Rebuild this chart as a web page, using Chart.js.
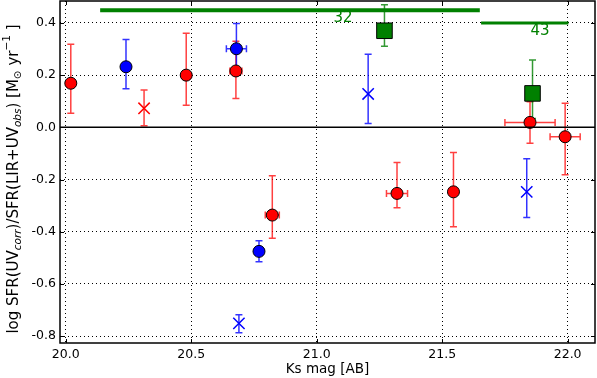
<!DOCTYPE html>
<html>
<head>
<meta charset="utf-8">
<script src="https://cdn.jsdelivr.net/npm/chart.js@4/dist/chart.umd.min.js"></script>
<style>
  body { margin: 0; background: #fff; }
  canvas { display: block; }
</style>
</head>
<body>
<canvas id="chart_sfr" width="597" height="378"></canvas>
<script>
// axis ticks
var xTicks = [20.0, 20.5, 21.0, 21.5, 22.0];
var yTicks = [-0.8, -0.6, -0.4, -0.2, 0.0, 0.2, 0.4];

// red circles
var redX    = [20.02, 20.48, 20.678, 20.823, 21.32, 21.545, 21.85, 21.99];
var redY    = [0.169, 0.200, 0.216, -0.336, -0.253, -0.247, 0.019, -0.036];
var redLo   = [0.054, 0.085, 0.111, -0.425, -0.308, -0.381, -0.061, -0.182];
var redHi   = [0.318, 0.360, 0.330, -0.185, -0.135, -0.096, 0.098, 0.092];
var redXErr = [0, 0, 0.024, 0.028, 0.042, 0, 0.10, 0.06];

// red crosses
var redCrossX  = [20.312];
var redCrossY  = [0.073];
var redCrossLo = [0.006];
var redCrossHi = [0.143];

// blue circles
var blueX    = [20.24, 20.68, 20.77];
var blueY    = [0.232, 0.301, -0.475];
var blueLo   = [0.148, 0.210, -0.515];
var blueHi   = [0.337, 0.398, -0.434];
var blueXErr = [0, 0.04, 0];

// blue crosses
var blueCrossX  = [21.205, 21.837, 20.69];
var blueCrossY  = [0.128, -0.247, -0.751];
var blueCrossLo = [0.015, -0.345, -0.787];
var blueCrossHi = [0.280, -0.120, -0.718];

// green squares (binned)
var greenX  = [21.27, 21.86];
var greenY  = [0.370, 0.130];
var greenLo = [0.311, 0.034];
var greenHi = [0.470, 0.258];

// bin ranges and counts
var binStart = [20.137, 21.655];
var binEnd   = [21.65, 22.003];
var binLevel = [0.449, 0.400];
var binCount = ['32', '43'];
var binLabelX = [21.105, 21.89];
var binLabelY = [0.419, 0.369];

var xMin = 19.977, xMax = 22.109;
var yMin = -0.826, yMax = 0.484;

function pts(xs, ys) {
    return xs.map((v, i) => ({ x: v, y: ys[i] }));
}

var errGroups = [
    { x: redX, lo: redLo, hi: redHi, xe: redXErr, y: redY, color: 'rgba(255, 0, 0, 0.75)' },
    { x: redCrossX, lo: redCrossLo, hi: redCrossHi, y: redCrossY, color: 'rgba(255, 0, 0, 0.75)' },
    { x: blueX, lo: blueLo, hi: blueHi, xe: blueXErr, y: blueY, color: 'rgba(0, 0, 255, 0.8)' },
    { x: blueCrossX, lo: blueCrossLo, hi: blueCrossHi, y: blueCrossY, color: 'rgba(0, 0, 255, 0.8)' },
    { x: greenX, lo: greenLo, hi: greenHi, y: greenY, color: 'rgba(0, 128, 0, 0.8)' }
];

function noPad(s) {
    s.paddingTop = 0;
    s.paddingBottom = 0;
    s.paddingLeft = 0;
    s.paddingRight = 0;
}

const errorBars = {
    id: 'errorBars',
    beforeDatasetsDraw(chart) {
        const ctx = chart.ctx;
        const xs = chart.scales.x, ys = chart.scales.y;
        ctx.save();
        ctx.lineWidth = 1.5;
        errGroups.forEach(g => {
            ctx.strokeStyle = g.color;
            for (let i = 0; i < g.x.length; i++) {
                const px = xs.getPixelForValue(g.x[i]);
                const top = ys.getPixelForValue(g.hi[i]);
                const bot = ys.getPixelForValue(g.lo[i]);
                ctx.beginPath();
                ctx.moveTo(px, top); ctx.lineTo(px, bot);
                ctx.moveTo(px - 3.5, top); ctx.lineTo(px + 3.5, top);
                ctx.moveTo(px - 3.5, bot); ctx.lineTo(px + 3.5, bot);
                if (g.xe && g.xe[i] > 0) {
                    const py = ys.getPixelForValue(g.y[i]);
                    const l = xs.getPixelForValue(g.x[i] - g.xe[i]);
                    const r = xs.getPixelForValue(g.x[i] + g.xe[i]);
                    ctx.moveTo(l, py); ctx.lineTo(r, py);
                    ctx.moveTo(l, py - 3.5); ctx.lineTo(l, py + 3.5);
                    ctx.moveTo(r, py - 3.5); ctx.lineTo(r, py + 3.5);
                }
                ctx.stroke();
            }
        });
        ctx.restore();
    },
    afterDraw(chart) {
        const ctx = chart.ctx;
        const a = chart.chartArea;
        const xs = chart.scales.x, ys = chart.scales.y;
        ctx.save();
        // inner ticks
        ctx.strokeStyle = '#000';
        ctx.lineWidth = 1;
        ctx.beginPath();
        xTicks.forEach(v => {
            const px = Math.round(xs.getPixelForValue(v)) + 0.5;
            ctx.moveTo(px, a.bottom); ctx.lineTo(px, a.bottom - 4);
            ctx.moveTo(px, a.top); ctx.lineTo(px, a.top + 4);
        });
        yTicks.forEach(v => {
            const py = Math.round(ys.getPixelForValue(v)) + 0.5;
            ctx.moveTo(a.left, py); ctx.lineTo(a.left + 4, py);
            ctx.moveTo(a.right, py); ctx.lineTo(a.right - 4, py);
        });
        ctx.stroke();
        // frame
        ctx.lineWidth = 1.5;
        ctx.strokeRect(a.left, a.top, a.right - a.left, a.bottom - a.top);

        // bin counts
        ctx.fillStyle = '#008000';
        ctx.font = '15px "DejaVu Sans"';
        ctx.textAlign = 'center';
        ctx.textBaseline = 'middle';
        binCount.forEach((t, i) => {
            ctx.fillText(t, xs.getPixelForValue(binLabelX[i]), ys.getPixelForValue(binLabelY[i]));
        });

        // x label
        ctx.fillStyle = '#000';
        ctx.font = '13.5px "DejaVu Sans"';
        ctx.fillText('Ks mag [AB]', (a.left + a.right) / 2, 369);

        // y label with sub/superscripts
        const parts = [
            ['log SFR(UV', 0, 15, ''],
            ['corr', 4, 10.5, 'italic '],
            [')/SFR(LIR+UV', 0, 15, ''],
            ['obs', 4, 10.5, 'italic '],
            [') [M', 0, 15, ''],
            ['\u2299', 4, 10.5, ''],
            [' yr', 0, 15, ''],
            ['\u22121', -7, 10.5, ''],
            [' ]', 0, 15, '']
        ];
        let total = 0;
        parts.forEach(p => {
            ctx.font = p[3] + p[2] + 'px "DejaVu Sans"';
            p.push(ctx.measureText(p[0]).width);
            total += p[4];
        });
        ctx.translate(14, 179);
        ctx.rotate(-Math.PI / 2);
        ctx.textAlign = 'left';
        let cx = -total / 2;
        parts.forEach(p => {
            ctx.font = p[3] + p[2] + 'px "DejaVu Sans"';
            ctx.fillText(p[0], cx, p[1]);
            cx += p[4];
        });
        ctx.restore();
    }
};

function createChart() {
    let fdatasets = [];

    fdatasets.push({
        type: 'line',
        data: [{ x: xMin, y: 0 }, { x: xMax, y: 0 }],
        borderColor: '#000',
        borderWidth: 1.5,
        pointRadius: 0
    });

    for (let i = 0; i < binStart.length; i++) {
        fdatasets.push({
            type: 'line',
            data: [{ x: binStart[i], y: binLevel[i] }, { x: binEnd[i], y: binLevel[i] }],
            borderColor: '#008000',
            borderWidth: i === 0 ? 4 : 3,
            pointRadius: 0
        });
    }

    fdatasets.push({
        data: pts(redX, redY),
        backgroundColor: '#ff0000',
        borderColor: '#000',
        borderWidth: 1,
        pointRadius: 6
    });

    fdatasets.push({
        data: pts(redCrossX, redCrossY),
        pointStyle: 'crossRot',
        borderColor: '#ff0000',
        borderWidth: 1.5,
        pointRadius: 8
    });

    fdatasets.push({
        data: pts(blueX, blueY),
        backgroundColor: '#0000ff',
        borderColor: '#000',
        borderWidth: 1,
        pointRadius: 6
    });

    fdatasets.push({
        data: pts(blueCrossX, blueCrossY),
        pointStyle: 'crossRot',
        borderColor: '#0000ff',
        borderWidth: 1.5,
        pointRadius: 8
    });

    fdatasets.push({
        data: pts(greenX, greenY),
        pointStyle: 'rect',
        backgroundColor: '#008000',
        borderColor: '#000',
        borderWidth: 1,
        pointRadius: 11
    });

    const chart = new Chart('chart_sfr', {
        type: 'scatter',
        data: { datasets: fdatasets },
        plugins: [errorBars],
        options: {
            responsive: false,
            animation: false,
            layout: { autoPadding: false, padding: { left: 0, right: 2, top: 1, bottom: 0 } },
            plugins: { legend: { display: false }, tooltip: { enabled: false } },
            scales: {
                x: {
                    type: 'linear',
                    min: xMin,
                    max: xMax,
                    afterBuildTicks: s => { s.ticks = xTicks.map(v => ({ value: v })); },
                    afterFit: s => { s.height = 35; noPad(s); },
                    grid: { color: '#000', lineWidth: 1, drawTicks: false },
                    border: { display: false, dash: [1, 3] },
                    ticks: {
                        padding: 4,
                        color: '#000',
                        font: { family: 'DejaVu Sans', size: 12.5 },
                        callback: v => v.toFixed(1)
                    }
                },
                y: {
                    type: 'linear',
                    min: yMin,
                    max: yMax,
                    afterBuildTicks: s => { s.ticks = yTicks.map(v => ({ value: v })); },
                    afterFit: s => { s.width = 60; noPad(s); },
                    grid: { color: '#000', lineWidth: 1, drawTicks: false },
                    border: { display: false, dash: [1, 3] },
                    ticks: {
                        padding: 4,
                        color: '#000',
                        font: { family: 'DejaVu Sans', size: 12.5 },
                        callback: v => v.toFixed(1)
                    }
                }
            }
        }
    });

    return chart;
}

createChart();
</script>
</body>
</html>
